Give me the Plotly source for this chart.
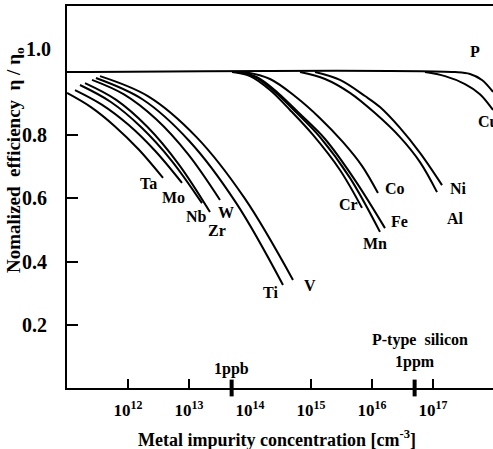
import numpy as np
import plotly.graph_objects as go

# ---- data (log10 of concentration [cm^-3], normalized efficiency) ----
ta_logc = [11.0, 11.393, 11.787, 12.18, 12.574]
ta_eff = [0.934, 0.889, 0.828, 0.754, 0.665]
mo_logc = [11.131, 11.570, 12.008, 12.447, 12.885]
mo_eff = [0.943, 0.897, 0.833, 0.750, 0.649]
nb_logc = [11.213, 11.713, 12.213, 12.713, 13.213]
nb_eff = [0.959, 0.906, 0.826, 0.720, 0.585]
zr_logc = [11.295, 11.807, 12.320, 12.832, 13.344]
zr_eff = [0.965, 0.912, 0.826, 0.708, 0.557]
w_logc = [11.410, 11.934, 12.459, 12.984, 13.508]
w_eff = [0.975, 0.929, 0.851, 0.740, 0.595]
ti_logc = [11.475, 12.242, 13.008, 13.775, 14.541]
ti_eff = [0.981, 0.913, 0.781, 0.585, 0.326]
v_logc = [11.541, 12.332, 13.123, 13.914, 14.705]
v_eff = [0.987, 0.923, 0.794, 0.600, 0.342]
cr_logc = [13.705, 14.0, 14.328, 14.656, 15.033, 15.475, 15.836]
cr_eff = [1.0, 0.987, 0.943, 0.880, 0.801, 0.690, 0.570]
mn_logc = [13.770, 14.082, 14.410, 14.770, 15.148, 15.639, 16.131]
mn_eff = [1.0, 0.984, 0.937, 0.870, 0.794, 0.665, 0.494]
fe_logc = [13.803, 14.115, 14.459, 14.820, 15.230, 15.721, 16.213]
fe_eff = [1.0, 0.984, 0.934, 0.867, 0.788, 0.658, 0.506]
co_logc = [13.918, 14.328, 14.754, 15.148, 15.525, 15.836, 16.098]
co_eff = [1.0, 0.978, 0.921, 0.854, 0.778, 0.703, 0.617]
al_logc = [14.820, 15.230, 15.639, 16.049, 16.459, 16.787, 17.066]
al_eff = [1.0, 0.978, 0.934, 0.870, 0.794, 0.715, 0.620]
ni_logc = [15.066, 15.475, 15.885, 16.131, 16.459, 16.787, 17.148]
ni_eff = [1.0, 0.975, 0.924, 0.889, 0.823, 0.744, 0.642]
cu_logc = [16.869, 17.197, 17.525, 17.770, 17.984]
cu_eff = [1.0, 0.987, 0.962, 0.930, 0.880]
p_logc = [11.0, 17.361, 17.607, 17.803, 17.984]
p_eff = [1.0, 1.0, 0.994, 0.975, 0.937]

x_tick_exps = [12, 13, 14, 15, 16, 17]
x_minor_exps = [12, 13, 15, 16, 17]
y_tick_vals = [0.2, 0.4, 0.6, 0.8]
y_tick_text = ["0.2", "0.4", "0.6", "0.8"]

ppb_conc = 5e13
ppm_conc = 5e16

curves = [
    ("Ta", ta_logc, ta_eff), ("Mo", mo_logc, mo_eff), ("Nb", nb_logc, nb_eff),
    ("Zr", zr_logc, zr_eff), ("W", w_logc, w_eff), ("Ti", ti_logc, ti_eff),
    ("V", v_logc, v_eff), ("Cr", cr_logc, cr_eff), ("Mn", mn_logc, mn_eff),
    ("Fe", fe_logc, fe_eff), ("Co", co_logc, co_eff), ("Al", al_logc, al_eff),
    ("Ni", ni_logc, ni_eff), ("Cu", cu_logc, cu_eff), ("P", p_logc, p_eff),
]

# label placement (log10 x, efficiency y)
label_pos = {
    "Ta": (12.344, 0.646), "Mo": (12.754, 0.604), "Nb": (13.131, 0.544),
    "W": (13.607, 0.554), "Zr": (13.459, 0.497), "Ti": (14.344, 0.301),
    "V": (14.984, 0.323), "Cr": (15.607, 0.582), "Co": (16.377, 0.630),
    "Fe": (16.443, 0.528), "Mn": (16.049, 0.456), "Ni": (17.426, 0.633),
    "Al": (17.361, 0.538), "Cu": (17.918, 0.842), "P": (17.689, 1.066),
}

FONT = "Liberation Serif"

fig = go.Figure()
for name, lc, ef in curves:
    fig.add_trace(go.Scatter(
        x=10 ** np.array(lc), y=ef, mode="lines",
        line=dict(color="black", width=2, shape="spline", smoothing=1.0),
        showlegend=False, hoverinfo="skip"))

# 1 ppb / 1 ppm thick marks on the axis
fig.add_trace(go.Scatter(
    x=[ppb_conc, ppm_conc], y=[0.0, 0.0], mode="markers",
    marker=dict(symbol="line-ns", size=12, line=dict(width=4, color="black")),
    cliponaxis=False, showlegend=False, hoverinfo="skip"))

annotations = []
for name, (lx, yv) in label_pos.items():
    annotations.append(dict(x=lx, y=yv, xref="x", yref="y", text="<b>%s</b>" % name,
                            showarrow=False,
                            font=dict(family=FONT, size=16, color="black")))

annotations += [
    dict(x=np.log10(ppb_conc), y=0.06, xref="x", yref="y", text="<b>1ppb</b>",
         showarrow=False, font=dict(family=FONT, size=16, color="black")),
    dict(x=np.log10(ppm_conc) + 0.08, y=0.152, xref="x", yref="y", text="<b>P-type  silicon</b>",
         showarrow=False, font=dict(family=FONT, size=16, color="black")),
    dict(x=np.log10(ppm_conc), y=0.082, xref="x", yref="y", text="<b>1ppm</b>",
         showarrow=False, font=dict(family=FONT, size=16, color="black")),
    dict(x=0, y=1.073, xref="paper", yref="y", text="<b>1.0</b>", xanchor="right",
         xshift=-14, showarrow=False,
         font=dict(family=FONT, size=20, color="black")),
    dict(x=0.494, y=-0.131, xref="paper", yref="paper", yanchor="middle",
         text="<b>Metal impurity concentration [cm<sup>-3</sup>]</b>", showarrow=False,
         font=dict(family=FONT, size=18, color="black")),
    dict(x=-0.122, y=0.597, xref="paper", yref="paper", xanchor="center",
         yanchor="middle",
         text="<b>Nomalized  efficiency  η / η<sub>o</sub></b>", textangle=-90,
         showarrow=False, font=dict(family=FONT, size=19, color="black")),
]

fig.update_layout(
    width=493, height=449,
    margin=dict(l=67, r=0, t=6, b=61, autoexpand=False),
    paper_bgcolor="white", plot_bgcolor="white",
    showlegend=False,
    annotations=annotations,
    xaxis=dict(
        type="log", range=[11.0, 17.984], automargin=False,
        tickvals=[10.0 ** e for e in x_tick_exps],
        ticktext=["<b>10<sup>%d</sup></b>" % e for e in x_tick_exps],
        ticks="", showgrid=False, zeroline=False,
        showline=True, linewidth=2, linecolor="black", mirror=True,
        ticklabelstandoff=6,
        tickfont=dict(family=FONT, size=17, color="black"),
        minor=dict(tickmode="array", tickvals=[10.0 ** e for e in x_minor_exps],
                   ticks="inside", ticklen=9, tickwidth=2, tickcolor="black",
                   showgrid=False),
    ),
    yaxis=dict(
        range=[0, 1.209], tickvals=y_tick_vals, ticktext=["<b>%s</b>" % t for t in y_tick_text],
        ticks="inside", ticklen=11, tickwidth=2, tickcolor="black",
        showgrid=False, zeroline=False, automargin=False,
        showline=True, linewidth=2, linecolor="black", mirror=False,
        ticklabelstandoff=14,
        tickfont=dict(family=FONT, size=20, color="black"),
    ),
)

fig.write_html(
    "out.html",
    config={"displayModeBar": False},
    post_script="document.body.style.margin='0';document.body.style.overflow='hidden';",
)
